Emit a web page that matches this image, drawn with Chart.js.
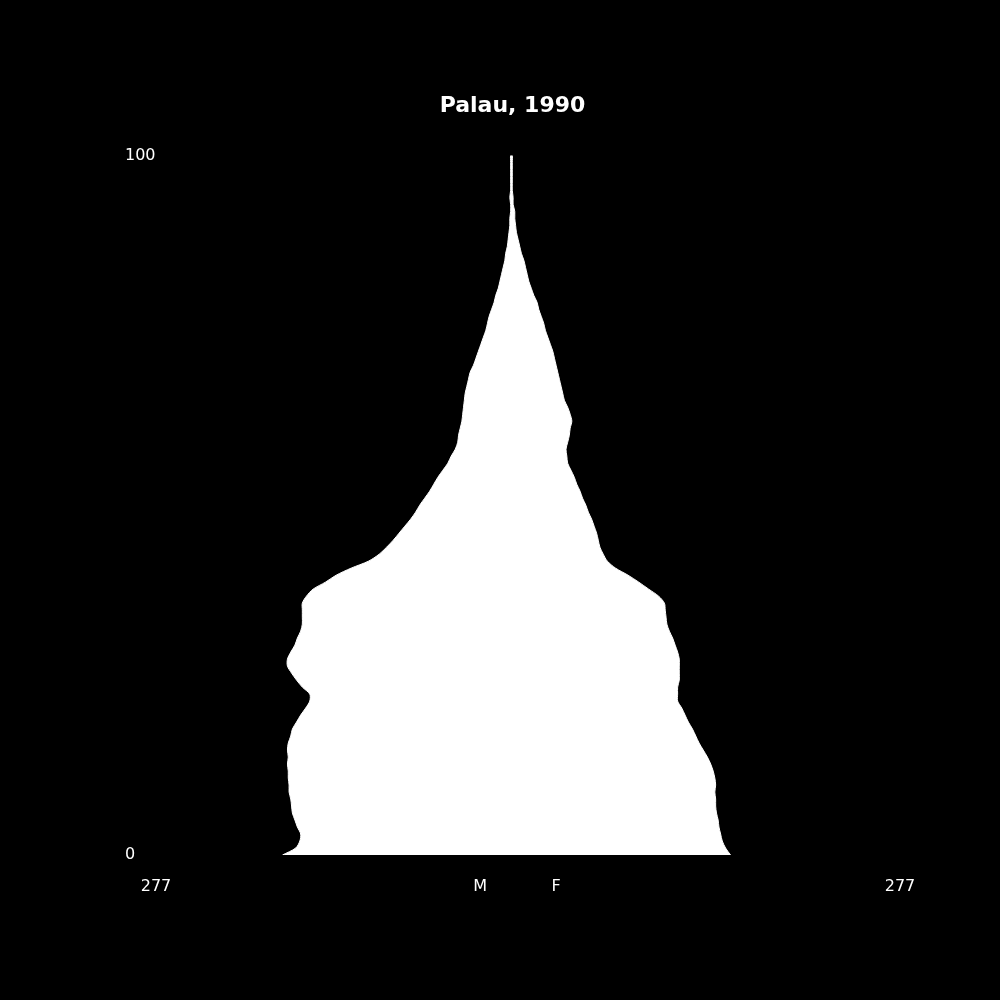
<!DOCTYPE html>
<html>
    <head>
        <meta charset="UTF-8">
        <title>Palau, 1990</title>
        <style>
            html, body { margin: 0; padding: 0; background: #000; }
            #wrap { width: 1000px; height: 1000px; }
        </style>
    </head>
    <body>
        <div id="wrap">
            <canvas id="pyramid" width="1000" height="1000"></canvas>
        </div>

        <script src="https://cdn.jsdelivr.net/npm/chart.js"></script>
        <script>
            // population by single year of age, 0..100
            const ages = [...Array(101).keys()];

            const male = [
                277, 261, 256, 255, 259, 262, 265, 266, 267, 269,
                269, 270, 270, 271, 270, 271, 270, 267, 265, 260,
                255, 249, 244, 244, 253, 260, 266, 271, 271, 267,
                262, 259, 255, 253, 253, 253, 253, 248, 240, 225,
                212, 194, 173, 160, 151, 143, 136, 129, 122, 116,
                111, 105, 99, 94, 89, 83, 77, 73, 68, 65,
                64, 62, 60, 59, 58, 57, 56, 54, 52, 50,
                46, 43, 40, 37, 34, 31, 29, 27, 24, 21,
                19, 16, 14, 12, 10, 8, 7, 5, 4, 3,
                2, 2, 1, 1, 2, 1, 1, 1, 1, 1,
                1
            ];

            const female = [
                265, 259, 255, 253, 251, 250, 248, 247, 247, 246,
                247, 246, 244, 241, 237, 232, 227, 223, 219, 214,
                210, 206, 201, 201, 201, 203, 203, 203, 203, 201,
                198, 195, 191, 188, 187, 186, 185, 178, 166, 154,
                141, 126, 116, 111, 107, 105, 103, 100, 97, 93,
                90, 86, 83, 79, 76, 72, 68, 67, 66, 68,
                70, 71, 73, 71, 68, 64, 62, 60, 58, 56,
                54, 52, 50, 47, 44, 41, 39, 36, 33, 31,
                27, 24, 21, 19, 17, 15, 12, 10, 8, 6,
                5, 4, 4, 2, 2, 1, 1, 1, 1, 1,
                1
            ];

            // x axis: males to the left (negative), females to the right
            const xTickValues = [-430, -38, 54, 470];
            const xTickLabels = ['277', 'M', 'F', '277'];
            const yTickValues = [0, 100];
            const yTickLabels = ['0', '100'];

            // outline: up the male side, back down the female side
            let outline = [];
            for (let a of ages) {
                outline.push({ x: -male[a], y: a });
            }
            for (let a of ages.slice().reverse()) {
                outline.push({ x: female[a], y: a });
            }

            Chart.defaults.font.family = '"DejaVu Sans", sans-serif';
            Chart.defaults.color = '#ffffff';

            new Chart(document.getElementById('pyramid'), {
                type: 'scatter',
                data: {
                    datasets: [{
                        data: outline,
                        showLine: true,
                        fill: 'shape',
                        tension: 0.3,
                        backgroundColor: '#ffffff',
                        borderColor: '#ffffff',
                        borderWidth: 1,
                        pointRadius: 0
                    }]
                },
                options: {
                    responsive: false,
                    devicePixelRatio: 1,
                    animation: false,
                    layout: {
                        padding: { left: 125, right: 100, top: 0, bottom: 85 }
                    },
                    plugins: {
                        legend: { display: false },
                        tooltip: { enabled: false },
                        title: {
                            display: true,
                            text: 'Palau, 1990',
                            color: '#ffffff',
                            font: { size: 22, weight: 'bold' },
                            padding: { top: 93, bottom: 36 }
                        }
                    },
                    scales: {
                        x: {
                            type: 'linear',
                            min: -430,
                            max: 470,
                            grid: { display: false },
                            border: { display: false },
                            afterBuildTicks: (scale) => {
                                scale.ticks = xTickValues.map((v) => ({ value: v }));
                            },
                            afterFit: (scale) => { scale.height = 60; },
                            ticks: {
                                padding: 14,
                                maxRotation: 0,
                                autoSkip: false,
                                font: { size: 16 },
                                callback: (value) => xTickLabels[xTickValues.indexOf(value)]
                            }
                        },
                        y: {
                            type: 'linear',
                            min: 0,
                            max: 100,
                            grid: { display: false },
                            border: { display: false },
                            afterBuildTicks: (scale) => {
                                scale.ticks = yTickValues.map((v) => ({ value: v }));
                            },
                            afterFit: (scale) => { scale.width = 31; },
                            ticks: {
                                padding: 0,
                                crossAlign: 'far',
                                font: { size: 16 },
                                callback: (value) => yTickLabels[yTickValues.indexOf(value)]
                            }
                        }
                    }
                }
            });
        </script>
    </body>
</html>
